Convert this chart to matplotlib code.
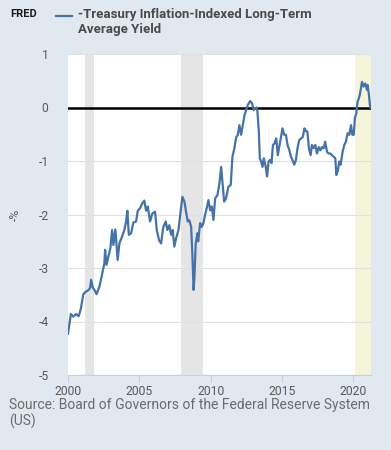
import matplotlib.pyplot as plt

# decimal year, -yield (%)
dates = [
    2000.00, 2000.20, 2000.37, 2000.56, 2000.75, 2000.91, 2001.07, 2001.26, 2001.45, 2001.55,
    2001.62, 2001.73, 2001.85, 2002.00, 2002.20, 2002.38, 2002.55, 2002.60, 2002.70, 2002.85,
    2002.97, 2003.09, 2003.18, 2003.32, 2003.48, 2003.60, 2003.79, 2003.95, 2004.07, 2004.16,
    2004.26, 2004.42, 2004.58, 2004.77, 2004.89, 2005.05, 2005.21, 2005.35, 2005.47, 2005.59,
    2005.75, 2005.91, 2006.10, 2006.22, 2006.38, 2006.52, 2006.68, 2006.85, 2006.96, 2007.10,
    2007.22, 2007.33, 2007.45, 2007.57, 2007.74, 2007.90, 2008.02, 2008.16, 2008.27, 2008.39,
    2008.50, 2008.63, 2008.72, 2008.80, 2008.86, 2008.95, 2009.07, 2009.12, 2009.26, 2009.37,
    2009.49, 2009.60, 2009.72, 2009.84, 2009.96, 2010.07, 2010.19, 2010.31, 2010.47, 2010.61,
    2010.73, 2010.83, 2010.94, 2011.07, 2011.24, 2011.40, 2011.52, 2011.66, 2011.78, 2011.90,
    2012.01, 2012.13, 2012.25, 2012.37, 2012.48, 2012.60, 2012.76, 2012.90, 2013.00, 2013.10,
    2013.20, 2013.27, 2013.37, 2013.44, 2013.53, 2013.63, 2013.72, 2013.84, 2013.95, 2014.05,
    2014.15, 2014.26, 2014.36, 2014.47, 2014.59, 2014.70, 2014.80, 2014.90, 2015.03, 2015.15,
    2015.27, 2015.38, 2015.50, 2015.62, 2015.73, 2015.85, 2015.97, 2016.08, 2016.20, 2016.32,
    2016.45, 2016.57, 2016.67, 2016.77, 2016.88, 2017.00, 2017.09, 2017.21, 2017.33, 2017.45,
    2017.57, 2017.68, 2017.80, 2017.92, 2018.02, 2018.15, 2018.26, 2018.38, 2018.50, 2018.61,
    2018.73, 2018.80, 2018.92, 2019.00, 2019.10, 2019.24, 2019.36, 2019.47, 2019.59, 2019.71,
    2019.83, 2019.92, 2020.02, 2020.10, 2020.20, 2020.29, 2020.38, 2020.46, 2020.60, 2020.71,
    2020.83, 2020.95, 2021.00, 2021.10, 2021.17,
]
values = [
    -4.23, -3.86, -3.91, -3.86, -3.90, -3.75, -3.49, -3.44, -3.41, -3.37,
    -3.22, -3.36, -3.41, -3.49, -3.35, -3.13, -2.91, -2.66, -2.94, -2.76,
    -2.63, -2.29, -2.57, -2.28, -2.85, -2.54, -2.41, -2.29, -2.13, -1.93,
    -2.38, -2.35, -2.15, -2.13, -1.93, -1.88, -1.79, -1.74, -1.93, -1.85,
    -2.13, -1.98, -1.95, -2.29, -2.48, -2.54, -2.23, -2.13, -2.29, -2.20,
    -2.38, -2.29, -2.60, -2.45, -2.29, -1.92, -1.67, -1.76, -1.95, -2.13,
    -2.11, -2.23, -2.79, -3.41, -3.16, -2.54, -2.35, -2.50, -2.16, -2.23,
    -2.16, -2.01, -1.88, -1.73, -1.92, -1.85, -2.10, -1.70, -1.64, -1.42,
    -1.11, -1.42, -1.76, -1.70, -1.48, -1.45, -0.92, -0.76, -0.56, -0.51,
    -0.33, -0.51, -0.33, -0.14, -0.05, 0.05, 0.12, 0.08, -0.05, -0.02,
    0.00, -0.07, -0.45, -0.95, -1.01, -1.11, -0.95, -1.09, -1.29, -1.01,
    -0.98, -1.04, -0.70, -0.67, -0.58, -0.89, -0.74, -0.58, -0.39, -0.51,
    -0.51, -0.70, -0.79, -0.92, -0.98, -1.07, -0.98, -0.76, -0.61, -0.58,
    -0.55, -0.39, -0.44, -0.45, -0.76, -0.89, -0.70, -0.76, -0.70, -0.86,
    -0.74, -0.80, -0.74, -0.76, -0.64, -0.83, -0.86, -0.86, -0.89, -0.92,
    -0.95, -1.26, -1.17, -1.01, -1.07, -0.83, -0.70, -0.64, -0.48, -0.51,
    -0.33, -0.51, -0.51, -0.20, -0.11, 0.11, 0.17, 0.26, 0.48, 0.39,
    0.45, 0.33, 0.42, 0.20, 0.00,
]
recessions = [(2001.17, 2001.83), (2007.92, 2009.45)]
highlight = (2020.1, 2021.2)
xticks = [2000, 2005, 2010, 2015, 2020]
yticks = [1, 0, -1, -2, -3, -4, -5]

bg = '#e1e9f0'
plt.rcParams['font.family'] = ['Roboto', 'DejaVu Sans']

fig = plt.figure(figsize=(3.91, 4.5), dpi=100, facecolor=bg)
ax = fig.add_axes([68 / 391, 1 - 375 / 450, 303 / 391, 321 / 450])
ax.set_facecolor('white')

for a, b in recessions:
    ax.axvspan(a, b, color='#e5e5e5', lw=0, zorder=0)
ax.axvspan(highlight[0], highlight[1], color='#f5f5dc', lw=0, zorder=0)

ax.plot(dates, values, color='#4572a7', lw=1.6, zorder=3)
ax.axhline(0, color='black', lw=1.8, zorder=2)

ax.set_xlim(2000, 2021.23)
ax.set_ylim(-5, 1)
ax.set_xticks(xticks)
ax.set_yticks(yticks)
ax.set_xticklabels([str(t) for t in xticks])
ax.set_yticklabels([str(t) for t in yticks])
ax.grid(axis='y', color='#e0e0e0', lw=0.8, zorder=1)
ax.set_axisbelow(True)
for s in ['top', 'right', 'left']:
    ax.spines[s].set_visible(False)
ax.spines['bottom'].set_color('#c5d0db')
ax.tick_params(axis='y', length=0, pad=14, labelsize=8.7, labelcolor='#595959')
ax.tick_params(axis='x', length=5, color='#c5d0db', pad=2, labelsize=8.7, labelcolor='#595959')
ax.set_ylabel('-%', fontsize=8.7, color='#595959', labelpad=12)

fig.text(10 / 391, 1 - 14 / 450, 'FRED', fontsize=8, fontweight='bold', color='#1a1a1a', va='center')
fig.add_artist(plt.Line2D([56 / 391, 72 / 391], [1 - 16 / 450] * 2, color='#4572a7', lw=1.6))
fig.text(78 / 391, 1 - 8 / 450, '-Treasury Inflation-Indexed Long-Term\nAverage Yield',
         fontsize=9.5, fontweight='bold', color='#4a4a4a', va='top', linespacing=1.2)
fig.text(9 / 391, 1 - 398 / 450, 'Source: Board of Governors of the Federal Reserve System\n(US)',
         fontsize=10, color='#6b6b6b', va='top', linespacing=1.1)

fig.savefig('out.png', dpi=100, facecolor=bg)
